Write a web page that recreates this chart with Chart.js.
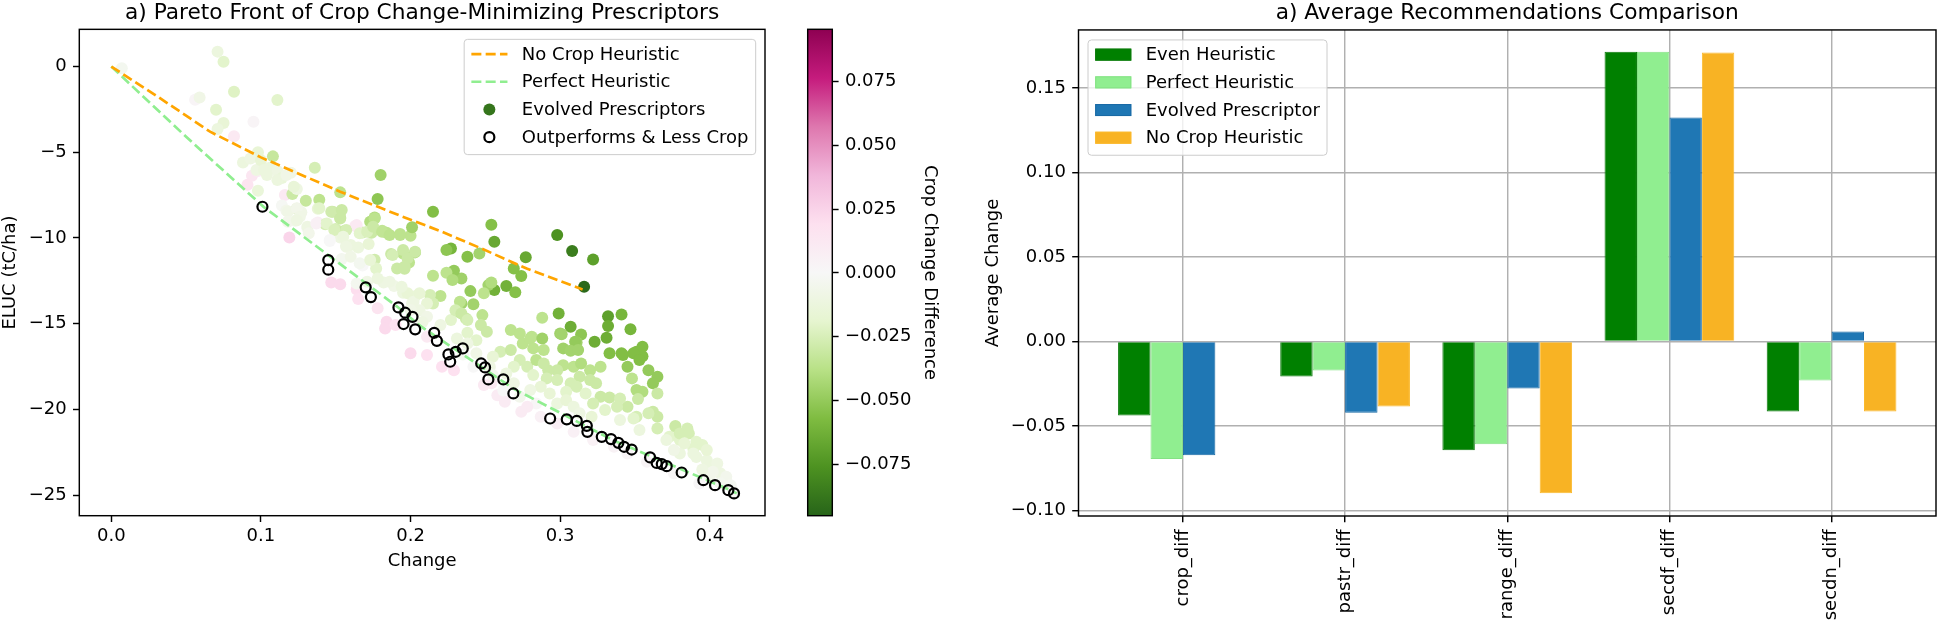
<!DOCTYPE html>
<html>
<head>
<meta charset="utf-8">
<script src="https://cdn.jsdelivr.net/npm/chart.js@4.4.1/dist/chart.umd.min.js"></script>
<style>
  body { margin: 0; background: #fff; width: 1940px; height: 624px; overflow: hidden; position: relative; }
  canvas { position: absolute; top: 0; }
</style>
</head>
<body>
<canvas id="pareto" width="790" height="624" style="left:0px"></canvas>
<canvas id="cbar" width="180" height="624" style="left:780px"></canvas>
<canvas id="recs" width="980" height="624" style="left:960px"></canvas>
<script>
// ---- dados: fronteira de Pareto (painel esquerdo) ----
const NOCROP_X = [0, 0.03, 0.066, 0.1, 0.153, 0.193, 0.22, 0.247, 0.278, 0.315];
const NOCROP_Y = [0, -1.7, -3.8, -5.3, -7.3, -8.7, -9.6, -10.6, -11.8, -13.0];

const PERFECT_X = [0, 0.05, 0.102, 0.191, 0.206, 0.269, 0.3355, 0.4135, 0.418];
const PERFECT_Y = [0, -4.1, -8.2, -14.0, -15.1, -18.8, -21.8, -24.7, -24.9];

// prescritores evoluidos: change, ELUC, diferenca de crop
const EVO_X = [0.007,0.071,0.075,0.082,0.111,0.056,0.059,0.070,0.075,0.071,0.095,0.082,0.098,0.088,0.108,0.094,0.098,0.091,0.098,0.106,
  0.111,0.114,0.120,0.136,0.116,0.121,0.124,0.130,0.139,0.153,0.180,0.178,0.215,0.114,0.117,0.124,0.127,0.123,0.119,0.131,
  0.138,0.138,0.143,0.148,0.153,0.150,0.156,0.146,0.153,0.163,0.157,0.165,0.172,0.168,0.174,0.173,0.176,0.181,0.184,0.193,
  0.200,0.201,0.187,0.195,0.203,0.199,0.191,0.196,0.176,0.177,0.168,0.154,0.215,0.147,0.153,0.164,0.165,0.182,0.189,0.195,
  0.203,0.254,0.256,0.227,0.238,0.246,0.277,0.298,0.308,0.322,0.316,0.269,0.274,0.264,0.270,0.256,0.252,0.249,0.254,0.240,
  0.234,0.229,0.224,0.228,0.220,0.213,0.215,0.234,0.242,0.232,0.248,0.237,0.227,0.247,0.251,0.238,0.244,0.288,0.299,0.307,
  0.314,0.332,0.332,0.341,0.347,0.331,0.323,0.311,0.267,0.273,0.281,0.288,0.275,0.300,0.302,0.333,0.341,0.351,0.355,0.355,
  0.195,0.198,0.196,0.203,0.198,0.202,0.280,0.301,0.310,0.307,0.312,0.282,0.289,0.342,0.349,0.353,0.345,0.359,0.365,0.362,
  0.348,0.351,0.355,0.365,0.345,0.352,0.362,0.365,0.365,0.377,0.385,0.386,0.373,0.380,0.391,0.395,0.389,0.380,0.391,0.398,
  0.402,0.407,0.411,0.327,0.333,0.340,0.338,0.330,0.322,0.351,0.359,0.302,0.309,0.314,0.320,0.327,0.313,0.320,0.324,0.307,
  0.298,0.292,0.291,0.298,0.304,0.311,0.317,0.260,0.267,0.273,0.278,0.269,0.284,0.289,0.282,0.287,0.280,0.293,0.298,0.304,
  0.309,0.313,0.321,0.255,0.253,0.264,0.269,0.244,0.242,0.273,0.284,0.233,0.230,0.234,0.238,0.220,0.231,0.238,0.211,0.206,
  0.211,0.201,0.206,0.178,0.184,0.183,0.190,0.200,0.211,0.211,0.221,0.229,0.249,0.254,0.258,0.263,0.278,0.274,0.287,0.298,
  0.309,0.322,0.336,0.345,0.358,0.376,0.393,0.377,0.380,0.383,0.398,0.389,0.405,0.402,0.411,0.414,0.349,0.340,0.353,0.371,
  0.376,0.400,0.407,0.416,0.395,0.255,0.262,0.235,0.200,0.208,
  0.097,0.104,0.111,0.117,0.122,0.118,0.124,0.126,0.118,0.124,0.131,0.137,0.132,0.139,0.147,0.154,0.153,0.144,0.149,0.157,
  0.164,0.155,0.160,0.166,0.171,0.176,0.175,0.181,0.186,0.193,0.146,0.157,0.160,0.166,0.173,0.188,0.224,0.164,0.171,0.178,
  0.186,0.194,0.093,0.100,0.102];
const EVO_Y = [-0.10,0.87,0.28,-1.47,-1.95,-1.94,-1.80,-2.52,-3.30,-3.65,-3.22,-4.07,-5.00,-5.60,-5.24,-6.37,-6.10,-6.90,-7.24,-5.90,
  -6.10,-6.50,-6.20,-5.90,-7.50,-7.44,-7.15,-7.83,-7.77,-7.34,-6.33,-7.73,-8.47,-8.10,-8.40,-8.30,-8.50,-9.00,-9.97,-9.44,
  -8.30,-9.10,-9.20,-8.47,-8.80,-9.48,-9.58,-10.18,-9.97,-9.30,-10.45,-10.55,-10.35,-9.68,-9.70,-9.05,-8.80,-9.58,-9.70,-9.77,
  -9.87,-9.38,-10.94,-10.90,-10.84,-11.43,-11.78,-11.80,-11.27,-11.78,-11.60,-11.23,-12.20,-12.60,-12.70,-13.00,-13.56,-12.60,-12.80,-13.20,
  -13.40,-9.23,-10.22,-10.61,-11.10,-10.90,-11.13,-9.83,-10.76,-11.25,-12.85,-11.78,-12.22,-12.80,-13.16,-13.04,-12.75,-13.23,-12.60,-13.10,
  -12.36,-11.91,-12.03,-12.45,-13.39,-13.33,-13.82,-13.82,-13.86,-14.30,-14.50,-14.70,-14.79,-15.08,-15.47,-15.53,-15.96,-14.65,-14.40,-15.18,
  -15.63,-14.56,-15.14,-14.46,-15.32,-15.82,-16.06,-16.09,-15.37,-15.57,-15.76,-15.86,-16.15,-15.57,-16.44,-16.73,-16.73,-16.64,-16.35,-16.90,
  -10.70,-11.19,-11.68,-10.80,-13.23,-13.72,-15.86,-15.61,-16.06,-16.58,-16.54,-16.44,-16.54,-16.83,-16.73,-17.12,-17.51,-17.71,-18.10,-18.48,
  -18.19,-18.87,-18.97,-19.07,-19.85,-19.40,-20.14,-20.43,-21.11,-21.02,-21.11,-21.40,-21.60,-21.79,-21.89,-22.08,-22.28,-22.57,-22.77,-22.96,
  -23.35,-23.73,-24.22,-19.26,-19.30,-19.37,-19.85,-20.04,-19.65,-20.43,-20.23,-17.42,-17.51,-17.32,-17.71,-17.51,-18.10,-18.29,-18.48,-18.48,
  -17.71,-17.71,-18.19,-18.29,-18.97,-18.68,-19.07,-16.64,-16.54,-17.12,-17.51,-17.51,-17.12,-17.32,-18.00,-18.68,-18.87,-19.07,-19.65,-19.46,
  -19.85,-20.23,-20.43,-16.93,-17.51,-17.90,-18.48,-16.73,-17.51,-19.26,-19.65,-13.72,-14.21,-14.40,-14.79,-15.08,-15.86,-16.15,-13.82,-14.21,
  -14.60,-13.82,-13.23,-14.10,-14.89,-15.28,-15.08,-16.73,-16.83,-15.76,-17.51,-17.71,-18.58,-18.48,-19.17,-19.56,-19.85,-20.14,-20.43,-20.82,
  -21.31,-21.79,-22.18,-22.57,-23.06,-23.73,-24.32,-20.97,-21.40,-21.98,-22.37,-22.57,-23.15,-23.64,-23.93,-24.42,-20.53,-20.62,-21.20,-21.79,
  -22.37,-23.90,-24.30,-24.80,-23.50,-18.00,-18.90,-16.80,-14.20,-14.90,
  -6.04,-6.33,-6.62,-6.33,-7.01,-8.47,-8.27,-8.76,-9.05,-8.96,-9.35,-9.15,-9.73,-8.27,-8.47,-8.37,-8.86,-9.15,-9.54,-9.54,
  -9.25,-9.93,-10.41,-9.73,-9.64,-8.86,-9.35,-9.64,-9.83,-9.83,-10.12,-10.51,-11.10,-11.48,-11.29,-11.00,-10.70,-12.65,-12.56,-12.36,
  -12.56,-12.85,-5.36,-5.46,-6.04];
const EVO_C = [-0.004,-0.012,-0.020,-0.022,-0.020,0.003,-0.008,-0.020,-0.016,-0.012,0.003,0.012,-0.016,-0.012,-0.032,0.014,0.010,0.016,-0.014,-0.012,
  -0.010,-0.014,-0.008,-0.026,0.012,-0.030,-0.010,-0.032,-0.036,-0.036,-0.046,-0.052,-0.056,-0.002,-0.006,-0.026,-0.008,-0.006,0.024,0.000,
  -0.016,0.008,-0.026,-0.030,-0.030,-0.026,-0.030,0.000,-0.010,0.012,-0.012,-0.012,-0.016,-0.026,-0.030,-0.040,-0.040,-0.034,-0.036,-0.036,
  -0.036,-0.046,-0.030,-0.036,-0.040,-0.036,-0.030,-0.030,-0.028,-0.020,0.000,-0.004,-0.036,0.022,0.022,0.020,0.018,-0.010,-0.008,-0.012,
  -0.014,-0.055,-0.066,-0.060,-0.055,-0.045,-0.066,-0.076,-0.085,-0.070,-0.093,-0.055,-0.055,-0.062,-0.055,-0.062,-0.045,-0.036,-0.040,-0.050,
  -0.046,-0.050,-0.036,-0.040,-0.036,-0.026,-0.026,-0.045,-0.045,-0.036,-0.036,-0.030,-0.020,-0.030,-0.030,-0.020,-0.020,-0.036,-0.062,-0.064,
  -0.052,-0.070,-0.064,-0.060,-0.060,-0.064,-0.064,-0.046,-0.036,-0.036,-0.036,-0.046,-0.036,-0.046,-0.046,-0.056,-0.056,-0.056,-0.056,-0.056,
  -0.030,-0.030,-0.030,-0.030,-0.016,-0.010,-0.036,-0.045,-0.050,-0.045,-0.045,-0.036,-0.036,-0.056,-0.056,-0.056,-0.050,-0.050,-0.050,-0.050,
  -0.036,-0.040,-0.040,-0.030,-0.030,-0.030,-0.030,-0.030,-0.026,-0.026,-0.026,-0.026,-0.020,-0.020,-0.020,-0.020,-0.020,-0.012,-0.012,-0.012,
  -0.012,-0.010,-0.006,-0.030,-0.030,-0.026,-0.026,-0.020,-0.026,-0.026,-0.026,-0.036,-0.036,-0.040,-0.036,-0.036,-0.030,-0.030,-0.030,-0.026,
  -0.030,-0.030,-0.026,-0.026,-0.020,-0.026,-0.020,-0.026,-0.030,-0.026,-0.026,-0.020,-0.036,-0.030,-0.020,-0.016,-0.010,-0.016,-0.012,-0.016,
  -0.012,-0.010,-0.016,-0.016,-0.010,-0.012,-0.010,-0.008,0.000,-0.005,0.002,-0.036,-0.026,-0.030,-0.026,-0.010,-0.012,-0.010,-0.016,-0.010,
  -0.008,-0.010,-0.016,0.016,0.022,0.022,0.018,0.022,0.018,0.012,0.018,0.018,0.012,0.012,0.010,0.010,0.010,0.010,0.006,0.008,
  0.006,0.005,0.004,0.003,0.003,0.002,0.001,-0.030,-0.026,-0.016,-0.016,-0.012,-0.010,-0.006,-0.005,-0.003,-0.020,-0.012,-0.012,-0.012,
  -0.008,-0.006,-0.004,-0.002,-0.010,-0.004,0.000,-0.004,-0.008,-0.010,
  -0.010,-0.012,-0.012,-0.008,-0.015,-0.008,-0.006,-0.008,-0.006,-0.010,-0.010,0.006,-0.006,-0.020,-0.028,-0.030,-0.030,-0.020,-0.024,-0.026,
  0.012,-0.012,-0.012,-0.020,-0.024,-0.036,-0.030,-0.034,-0.036,-0.036,0.000,-0.010,-0.008,-0.004,-0.016,-0.026,-0.052,-0.004,-0.008,-0.012,
  -0.010,-0.012,-0.010,-0.016,-0.012];

// os que superam a heuristica e usam menos crop
const OUT_X = [0.101,0.145,0.145,0.170,0.1735,0.1919,0.1964,0.2013,0.1953,0.2031,0.2158,0.2176,0.2253,0.2265,0.2302,0.2349,
  0.2472,0.2498,0.252,0.262,0.2687,0.2933,0.3044,0.3111,0.3178,0.3182,0.3278,0.334,0.3389,0.3427,0.3478,
  0.3601,0.3645,0.3679,0.3712,0.3812,0.3957,0.4035,0.4124,0.4162];
const OUT_Y = [-8.18,-11.29,-11.85,-12.88,-13.45,-14.05,-14.36,-14.6,-15.02,-15.33,-15.53,-16.0,-16.79,-17.22,-16.64,-16.44,
  -17.32,-17.55,-18.25,-18.25,-19.07,-20.53,-20.58,-20.67,-20.96,-21.31,-21.6,-21.73,-21.95,-22.18,-22.34,
  -22.8,-23.12,-23.19,-23.31,-23.68,-24.13,-24.42,-24.71,-24.9];

const X_TICKS = [0, 0.1, 0.2, 0.3, 0.4];
const Y_TICKS = [-25, -20, -15, -10, -5, 0];
const CB_MIN = -0.0952, CB_MAX = 0.0955;
const CB_TICKS = [-0.075, -0.05, -0.025, 0, 0.025, 0.05, 0.075];

// ---- dados: recomendacoes medias (painel direito) ----
const CATS = ['crop_diff', 'pastr_diff', 'range_diff', 'secdf_diff', 'secdn_diff'];
const EVEN = [-0.0439, -0.0208, -0.0644, 0.1714, -0.0415];
const PERFECT = [-0.0696, -0.0172, -0.0608, 0.1714, -0.0231];
const EVOLVED = [-0.0674, -0.0422, -0.0278, 0.1325, 0.0059];
const NOCROP = [0, -0.0385, -0.0898, 0.1709, -0.0415];
const BAR_TICKS = [-0.10, -0.05, 0, 0.05, 0.10, 0.15];

// ---- configuracao geral ----
Chart.defaults.font.family = '"DejaVu Sans"';
Chart.defaults.font.size = 18;
Chart.defaults.color = '#000';
Chart.defaults.animation = false;

// PiYG do matplotlib (invertido no uso)
const PIYG = [[142,1,82],[197,27,125],[222,119,174],[241,182,218],[253,224,239],[247,247,247],
              [230,245,208],[184,225,134],[127,188,65],[77,146,33],[39,100,25]];
function cmap(v) {
    let t = (CB_MAX - v) / (CB_MAX - CB_MIN);
    t = Math.min(1, Math.max(0, t)) * 10;
    const i = Math.min(9, Math.floor(t)), f = t - i;
    const a = PIYG[i], b = PIYG[i + 1];
    return 'rgb(' + a.map((c, k) => Math.round(c + (b[k] - c) * f)).join(',') + ')';
}
const fmt = (v, d) => (v < 0 ? '\u2212' : '') + Math.abs(v).toFixed(d);
const pts = (xs, ys) => xs.map((x, i) => ({ x: x, y: ys[i] }));
const fixTicks = list => (s => { s.ticks = list.map(v => ({ value: v })); });

// moldura preta em volta da area do grafico
const frame = {
    id: 'frame',
    afterDraw(chart) {
        const a = chart.chartArea, c = chart.ctx;
        c.save();
        c.strokeStyle = '#000';
        c.lineWidth = 1.44;
        c.strokeRect(a.left, a.top, a.right - a.left, a.bottom - a.top);
        c.restore();
    }
};

// legenda com caixa, no estilo do matplotlib
const boxLegend = {
    id: 'boxLegend',
    afterDraw(chart, args, o) {
        if (!o || !o.side) return;
        const c = chart.ctx, a = chart.chartArea;
        const items = chart.data.datasets;
        c.save();
        c.font = '18px "DejaVu Sans"';
        const tw = Math.max(...items.map(d => c.measureText(d.label).width));
        const w = 64.9 + tw, h = 115.3;
        const x = o.side === 'right' ? a.right - 9.3 - w : a.left + 9.5;
        const y = a.top + 10;
        c.beginPath();
        c.roundRect(x, y, w, h, 3.5);
        c.fillStyle = 'rgba(255,255,255,0.8)';
        c.fill();
        c.strokeStyle = '#cccccc';
        c.lineWidth = 1;
        c.stroke();
        items.forEach((d, i) => {
            const cy = y + 14.7 + i * 27.7, hx = x + 7.2;
            c.beginPath();
            if (d.legendKind === 'line') {
                c.setLineDash([10, 4.3]);
                c.strokeStyle = d.borderColor;
                c.lineWidth = 2.7;
                c.moveTo(hx, cy); c.lineTo(hx + 36.1, cy);
                c.stroke();
                c.setLineDash([]);
            } else if (d.legendKind === 'dot') {
                c.arc(hx + 18, cy, 6, 0, Math.PI * 2);
                c.fillStyle = d.legendColor;
                c.fill();
            } else if (d.legendKind === 'ring') {
                c.arc(hx + 18, cy, 5, 0, Math.PI * 2);
                c.fillStyle = '#fff';
                c.fill();
                c.strokeStyle = '#000';
                c.lineWidth = 2.2;
                c.stroke();
            } else {
                c.fillStyle = d.backgroundColor;
                c.fillRect(hx, cy - 6, 36.1, 12);
                c.strokeStyle = d.borderColor;
                c.lineWidth = 1;
                c.strokeRect(hx + 0.5, cy - 5.5, 35.1, 11);
            }
            c.fillStyle = '#000';
            c.textAlign = 'left';
            c.textBaseline = 'middle';
            c.fillText(d.label, x + 57.7, cy + 1);
        });
        c.restore();
    }
};

const tickGrid = { drawOnChartArea: false, drawTicks: true, tickLength: 6.3, tickColor: '#000', tickWidth: 1.44 };
const titleOpts = text => ({ display: true, text: text, fullSize: false, color: '#000',
    font: { size: 21.7, weight: 'normal' }, padding: { top: 0, bottom: 3.3 } });

// ---- painel esquerdo: dispersao ----
new Chart(document.getElementById('pareto'), {
    type: 'scatter',
    data: {
        datasets: [
            { label: 'No Crop Heuristic', data: pts(NOCROP_X, NOCROP_Y), showLine: true, fill: false,
              borderColor: '#ffa500', borderWidth: 2.7, borderDash: [10, 4.3], pointRadius: 0, order: 2, legendKind: 'line' },
            { label: 'Perfect Heuristic', data: pts(PERFECT_X, PERFECT_Y), showLine: true, fill: false,
              borderColor: '#90ee90', borderWidth: 2.7, borderDash: [10, 4.3], pointRadius: 0, order: 2, legendKind: 'line' },
            { label: 'Evolved Prescriptors', data: pts(EVO_X, EVO_Y), pointRadius: 6, pointBorderWidth: 0,
              pointBackgroundColor: EVO_C.map(cmap), order: 3, legendKind: 'dot', legendColor: cmap(-0.088) },
            { label: 'Outperforms & Less Crop', data: pts(OUT_X, OUT_Y), pointRadius: 5, pointBorderWidth: 2.2,
              pointBorderColor: '#000', pointBackgroundColor: 'rgba(0,0,0,0)', order: 1, legendKind: 'ring' }
        ]
    },
    options: {
        responsive: false,
        events: [],
        layout: { padding: { left: 0, right: 25, top: 0, bottom: 51.5 } },
        plugins: {
            legend: { display: false },
            tooltip: { enabled: false },
            title: titleOpts('a) Pareto Front of Crop Change-Minimizing Prescriptors'),
            boxLegend: { side: 'right' }
        },
        scales: {
            x: {
                type: 'linear', min: -0.0214, max: 0.4369,
                afterBuildTicks: fixTicks(X_TICKS),
                afterFit: s => { s.height = 56.8; },
                grid: tickGrid,
                border: { display: false },
                ticks: { padding: 3.5, maxRotation: 0, autoSkip: false, callback: v => v.toFixed(1) },
                title: { display: true, text: 'Change', padding: 0 }
            },
            y: {
                type: 'linear', min: -26.2, max: 2.17,
                afterBuildTicks: fixTicks(Y_TICKS),
                afterFit: s => { s.width = 79.3; },
                grid: tickGrid,
                border: { display: false },
                ticks: { padding: 6.3, autoSkip: false, callback: v => fmt(v, 0) },
                title: { display: true, text: 'ELUC (tC/ha)', padding: 0 }
            }
        }
    },
    plugins: [frame, boxLegend]
});

// ---- barra de cores ----
new Chart(document.getElementById('cbar'), {
    type: 'bar',
    data: {
        labels: [''],
        datasets: [{
            data: [[CB_MIN, CB_MAX]],
            barPercentage: 1, categoryPercentage: 1, borderWidth: 0,
            backgroundColor: ctx => {
                const a = ctx.chart.chartArea;
                if (!a) return 'transparent';
                const g = ctx.chart.ctx.createLinearGradient(0, a.bottom, 0, a.top);
                PIYG.forEach((c, k) => g.addColorStop(k / 10, 'rgb(' + PIYG[10 - k].join(',') + ')'));
                return g;
            }
        }]
    },
    options: {
        responsive: false,
        events: [],
        layout: { padding: { left: 27.7, right: 19.2, top: 29.3, bottom: 108.3 } },
        plugins: { legend: { display: false }, tooltip: { enabled: false } },
        scales: {
            x: { display: false },
            y: {
                position: 'right', min: CB_MIN, max: CB_MAX,
                afterBuildTicks: fixTicks(CB_TICKS),
                afterFit: s => { s.width = 108.5; },
                grid: tickGrid,
                border: { display: false },
                ticks: { padding: 6.3, autoSkip: false, callback: v => fmt(v, 3) },
                title: { display: true, text: 'Crop Change Difference', padding: 0 }
            }
        }
    },
    plugins: [frame]
});

// ---- painel direito: barras agrupadas ----
const barSet = (label, vals, fill, edge) => ({
    label: label, data: vals.map((v, i) => ({ x: i, y: v })),
    backgroundColor: fill, borderColor: edge, borderWidth: 1,
    barPercentage: 1, categoryPercentage: 0.8, legendKind: 'patch'
});

new Chart(document.getElementById('recs'), {
    type: 'bar',
    data: {
        datasets: [
            barSet('Even Heuristic', EVEN, '#008000', '#0a7a0a'),
            barSet('Perfect Heuristic', PERFECT, '#90ee90', '#84e184'),
            barSet('Evolved Prescriptor', EVOLVED, '#1f77b4', '#1a6aa5'),
            barSet('No Crop Heuristic', NOCROP, '#f8b324', '#fbb92c')
        ]
    },
    options: {
        responsive: false,
        events: [],
        layout: { padding: { left: 0, right: 4, top: 0, bottom: 0 } },
        plugins: {
            legend: { display: false },
            tooltip: { enabled: false },
            title: Object.assign(titleOpts('a) Average Recommendations Comparison'), { padding: { top: 0, bottom: 3.9 } }),
            boxLegend: { side: 'left' }
        },
        scales: {
            x: {
                type: 'linear', min: -0.644, max: 4.644, z: 1, offset: false,
                afterBuildTicks: fixTicks(CATS.map((c, i) => i)),
                afterFit: s => { s.height = 108; },
                grid: { offset: false, color: '#b0b0b0', lineWidth: 1.44, tickLength: 6.3, tickColor: '#000', tickWidth: 1.44 },
                border: { display: false },
                ticks: { padding: 7, minRotation: 90, maxRotation: 90, autoSkip: false,
                         callback: v => CATS[Math.round(v)] }
            },
            y: {
                type: 'linear', min: -0.1033, max: 0.1843, z: 1,
                afterBuildTicks: fixTicks(BAR_TICKS),
                afterFit: s => { s.width = 118.5; },
                grid: { color: '#b0b0b0', lineWidth: 1.44, tickLength: 6.3, tickColor: '#000', tickWidth: 1.44 },
                border: { display: false },
                ticks: { padding: 6.3, autoSkip: false, callback: v => fmt(v, 2) },
                title: { display: true, text: 'Average Change', padding: { top: 22.2, bottom: 0 } }
            }
        }
    },
    plugins: [frame, boxLegend]
});
</script>
</body>
</html>
